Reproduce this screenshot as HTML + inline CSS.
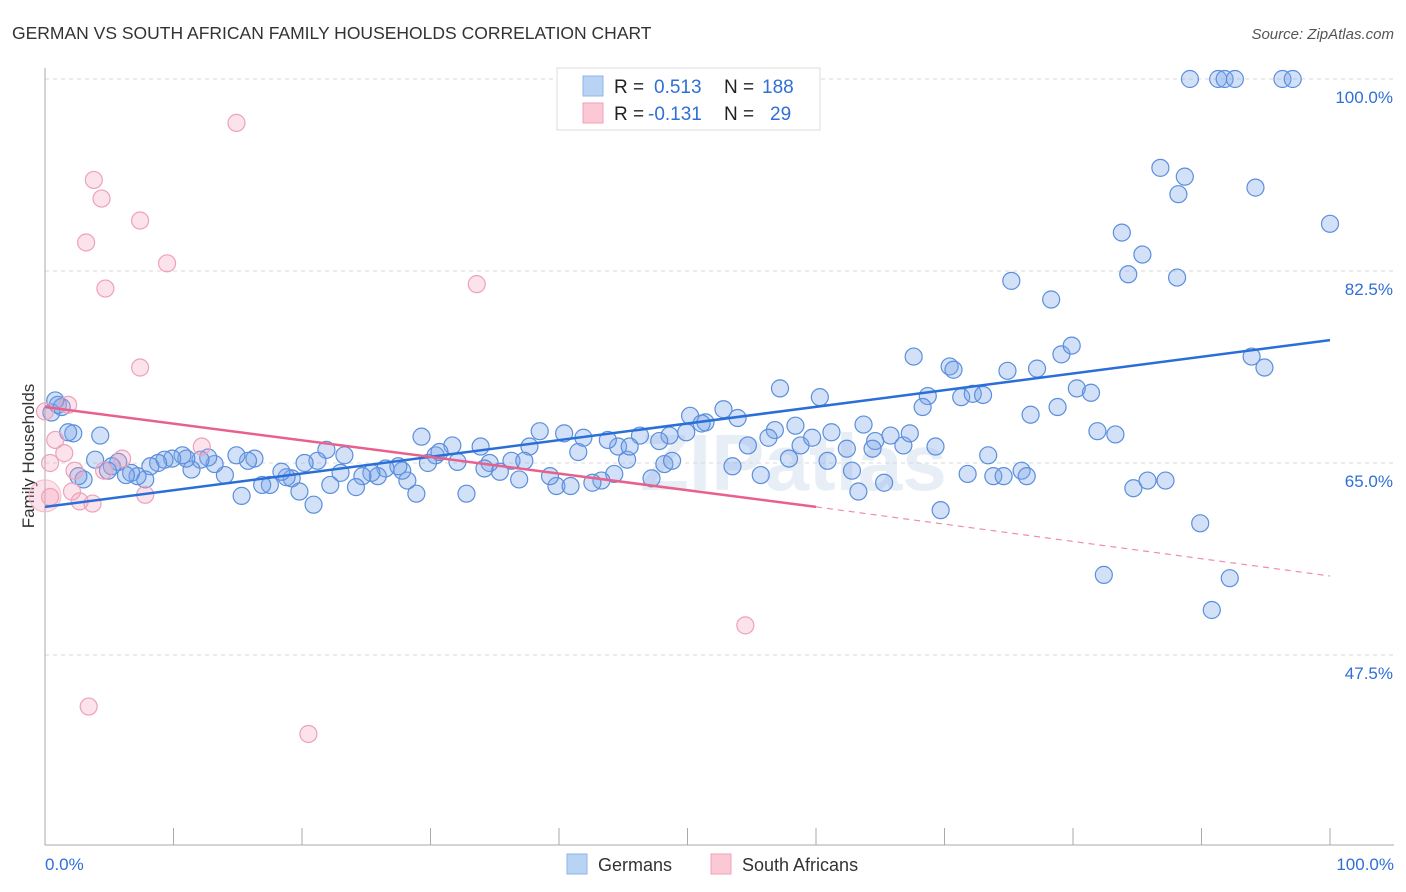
<!DOCTYPE html>
<html><head><meta charset="utf-8"><style>
body{margin:0;background:#fff;font-family:"Liberation Sans",sans-serif;}
#wrap{position:relative;width:1406px;height:892px;overflow:hidden;}
</style></head><body>
<div id="wrap">
<svg id="svg" width="1406" height="892" xmlns="http://www.w3.org/2000/svg">
<text x="12" y="39" font-size="17.5" fill="#333">GERMAN VS SOUTH AFRICAN FAMILY HOUSEHOLDS CORRELATION CHART</text>
<text x="1394" y="39" font-size="15" fill="#555" font-style="italic" text-anchor="end">Source: ZipAtlas.com</text>
<text transform="translate(34,456) rotate(-90)" font-size="17" fill="#333" text-anchor="middle">Family Households</text>
<text x="640" y="490" font-size="80" fill="#e8eef6" font-weight="bold">ZIPatlas</text>
<g id="grid"></g><g id="marks"></g>
<g>
<rect x="557" y="68" width="263" height="62" fill="#fff" stroke="#ddd"/>
<rect x="583" y="76" width="20" height="20" fill="#b9d3f5" stroke="#8fb4e8"/>
<rect x="583" y="103" width="20" height="20" fill="#fbc8d6" stroke="#f0a0b8"/>
<text x="614" y="93" font-size="19" fill="#222">R = <tspan fill="#2f6fd6" x="654">0.513</tspan><tspan x="724" fill="#222">N =</tspan><tspan x="762" fill="#2f6fd6">188</tspan></text>
<text x="614" y="120" font-size="19" fill="#222">R = <tspan fill="#2f6fd6" x="648">-0.131</tspan><tspan x="724" fill="#222">N =</tspan><tspan x="770" fill="#2f6fd6">29</tspan></text>
</g>
<g>
<rect x="567" y="854" width="20" height="20" fill="#b9d3f5" stroke="#8fb4e8"/>
<text x="598" y="871" font-size="18" fill="#333">Germans</text>
<rect x="711" y="854" width="20" height="20" fill="#fbc8d6" stroke="#f0a0b8"/>
<text x="742" y="871" font-size="18" fill="#333">South Africans</text>
</g>
</svg>
</div>
<script>
const yTicks=[100,82.5,65,47.5];
const xTickLabels=["0.0%","100.0%"];
const germanPoints=[[89.1,100],[91.3,100],[91.8,100],[92.6,100],[96.3,100],[97.1,100],[86.8,91.9],[88.7,91.1],[88.2,89.5],[94.2,90.1],[100,86.8],[83.8,86.0],[85.4,84.0],[84.3,82.2],[88.1,81.9],[75.2,81.6],[78.3,79.9],[67.6,74.7],[70.4,73.8],[70.7,73.5],[74.9,73.4],[77.2,73.6],[79.1,74.9],[79.9,75.7],[93.9,74.7],[94.9,73.7],[80.3,71.8],[81.4,71.4],[68.7,71.1],[71.3,71.0],[72.2,71.3],[73.0,71.2],[68.3,70.1],[76.7,69.4],[78.8,70.1],[81.9,67.9],[83.3,67.6],[57.2,71.8],[60.3,71.0],[52.8,69.9],[50.2,69.3],[51.4,68.7],[53.9,69.1],[63.7,68.5],[58.4,68.4],[61.2,67.8],[56.8,68.0],[54.7,66.6],[58.8,66.6],[59.7,67.3],[56.3,67.3],[51.1,68.6],[49.9,67.8],[48.6,67.5],[47.8,67.0],[46.3,67.5],[44.6,66.5],[43.8,67.1],[41.5,66.0],[38.5,67.9],[40.4,67.7],[41.9,67.3],[37.7,66.5],[29.3,67.4],[31.7,66.6],[33.9,66.5],[65.8,67.5],[64.6,67.0],[66.8,66.6],[67.3,67.7],[64.4,66.3],[62.4,66.3],[69.3,66.5],[73.4,65.7],[60.9,65.2],[62.8,64.3],[63.3,62.4],[65.3,63.2],[69.7,60.7],[71.8,64.0],[73.8,63.8],[74.6,63.8],[76.0,64.3],[76.4,63.8],[84.7,62.7],[85.8,63.4],[87.2,63.4],[89.9,59.5],[82.4,54.8],[92.2,54.5],[90.8,51.6],[53.5,64.7],[55.7,63.9],[57.9,65.4],[48.2,64.9],[48.8,65.2],[47.2,63.6],[45.3,65.3],[45.5,66.5],[44.3,64.0],[43.3,63.4],[42.6,63.2],[39.8,62.9],[40.9,62.9],[39.3,63.8],[36.9,63.5],[36.3,65.2],[37.3,65.2],[35.4,64.2],[34.6,65.0],[34.2,64.5],[32.8,62.2],[32.1,65.1],[30.4,65.7],[30.7,66.0],[29.8,65.0],[28.9,62.2],[28.2,63.4],[27.8,64.3],[27.5,64.7],[26.5,64.5],[25.9,63.8],[25.4,64.1],[24.7,63.8],[24.2,62.8],[23.0,64.1],[23.3,65.7],[22.2,63.0],[21.9,66.2],[21.2,65.2],[20.2,65.0],[19.8,62.4],[19.2,63.6],[18.8,63.7],[18.4,64.2],[17.5,63.0],[16.9,63.0],[16.3,65.4],[15.8,65.2],[15.3,62.0],[14.9,65.7],[14.0,63.9],[13.2,64.9],[12.7,65.5],[12.1,65.3],[11.4,64.4],[11.0,65.4],[10.7,65.7],[9.9,65.4],[9.3,65.3],[8.8,65.0],[8.2,64.7],[7.8,63.5],[7.2,63.8],[6.7,64.1],[6.3,63.9],[5.7,65.1],[5.2,64.7],[4.9,64.3],[3.9,65.3],[3.0,63.5],[2.6,63.8],[2.2,67.7],[1.8,67.8],[4.3,67.5],[0.5,69.6],[1.0,70.3],[1.3,70.1],[0.8,70.7],[20.9,61.2]];
const southAfricanPoints=[[14.9,96.0],[3.8,90.8],[4.4,89.1],[7.4,87.1],[3.2,85.1],[9.5,83.2],[4.7,80.9],[33.6,81.3],[7.4,73.7],[1.8,70.3],[0,69.7],[0.8,67.1],[1.5,65.9],[0.4,65.0],[2.3,64.3],[4.6,64.3],[6.0,65.4],[12.2,66.5],[0.4,61.9],[2.7,61.5],[3.7,61.3],[2.1,62.4],[7.8,62.1],[54.5,50.2],[3.4,42.8],[20.5,40.3]];
const southAfricanBig=[[0,62]];
const germanTrend=[[0,61.0],[100,76.2]];
const saTrendSolid=[[0,70.1],[60,61.0]];
const saTrendDashed=[[60,61.0],[100,54.7]];
const NS="http://www.w3.org/2000/svg";
const X=v=>45+v*12.85;
const Y=v=>79+(100-v)*10.971;
function mk(tag,attrs,parent){const e=document.createElementNS(NS,tag);for(const k in attrs)e.setAttribute(k,attrs[k]);parent.appendChild(e);return e;}
const grid=document.getElementById('grid'),marks=document.getElementById('marks');
yTicks.forEach(t=>{
 const l=mk('line',{x1:45,x2:1394,y1:Y(t),y2:Y(t),stroke:'#d8d8d8','stroke-dasharray':'4,4'},grid);
 
 
 const tx=mk('text',{x:1393,y:Y(t)+24,'font-size':17,fill:'#2f6fd6','text-anchor':'end'},grid);
 tx.textContent=t.toFixed(1)+'%';
 
 
});
const ax=mk('line',{x1:45,x2:45,y1:68,y2:845,stroke:'#aaa'},grid);


const bx=mk('line',{x1:45,x2:1394,y1:845,y2:845,stroke:'#aaa'},grid);


for(let i=0;i<=10;i++){
 const t=mk('line',{x1:X(i*10),x2:X(i*10),y1:828,y2:845,stroke:'#aaa'},grid);
 
 
}
[[0,'start',45],[100,'end',1394]].forEach((d,i)=>{
 const t=mk('text',{x:d[2],y:870,'font-size':17,fill:'#2f6fd6','text-anchor':d[1]},grid);
 t.textContent=xTickLabels[i];
 
 
});
germanPoints.forEach(p=>{
 const c=mk('circle',{cx:X(p[0]),cy:Y(p[1]),r:8.5,fill:'rgba(120,165,235,0.33)',stroke:'#5b8fdc','stroke-width':1.2},marks);
 
 
});
southAfricanPoints.forEach(p=>{
 const c=mk('circle',{cx:X(p[0]),cy:Y(p[1]),r:8.5,fill:'rgba(245,160,185,0.3)',stroke:'#eea2ba','stroke-width':1.2},marks);
 
 
});
southAfricanBig.forEach(p=>{
 const c=mk('circle',{cx:X(p[0]),cy:Y(p[1]),r:16,fill:'rgba(245,160,185,0.3)',stroke:'#f3bccc','stroke-width':1},marks);
 
 
});
const g1=mk('line',{x1:X(germanTrend[0][0]),y1:Y(germanTrend[0][1]),x2:X(germanTrend[1][0]),y2:Y(germanTrend[1][1]),stroke:'#2a6ed8','stroke-width':2.5},marks);


const s1=mk('line',{x1:X(saTrendSolid[0][0]),y1:Y(saTrendSolid[0][1]),x2:X(saTrendSolid[1][0]),y2:Y(saTrendSolid[1][1]),stroke:'#e8608c','stroke-width':2.5},marks);


const s2=mk('line',{x1:X(saTrendDashed[0][0]),y1:Y(saTrendDashed[0][1]),x2:X(saTrendDashed[1][0]),y2:Y(saTrendDashed[1][1]),stroke:'#eb8fac','stroke-width':1.2,'stroke-dasharray':'6,5'},marks);


</script>
</body></html>
